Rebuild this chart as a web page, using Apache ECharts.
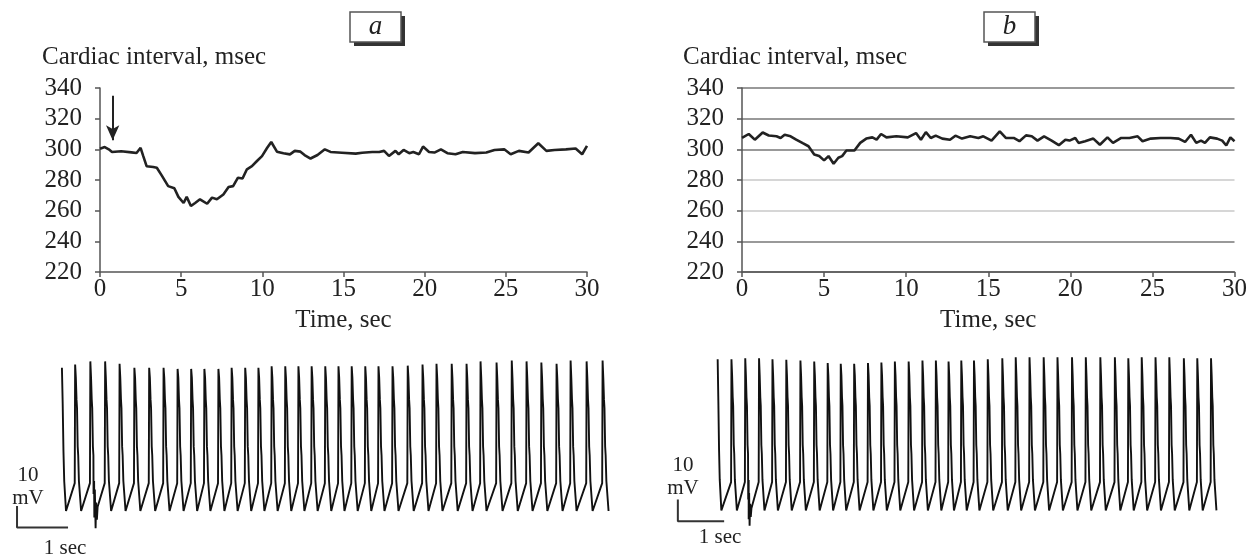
<!DOCTYPE html>
<html>
<head>
<meta charset="utf-8">
<script src="https://cdn.jsdelivr.net/npm/echarts@6/dist/echarts.min.js"></script>
<style>
  html, body { margin: 0; padding: 0; background: #fff; }
  #chart { width: 1250px; height: 554px; }
</style>
</head>
<body>
<div id="chart"></div>
<script>
// cardiac interval, panel a (time s / interval ms)
const timeA = [0, 0.29, 0.54, 0.74, 1.3, 1.94, 2.25, 2.5, 2.66, 2.87, 3.28, 3.5, 3.8, 4.2, 4.58, 4.83, 5.15, 5.34, 5.6, 5.86,
  6.16, 6.6, 6.9, 7.2, 7.6, 7.92, 8.2, 8.5, 8.78, 9.05, 9.36, 9.67, 9.98, 10.3, 10.55, 10.9, 11.3, 11.7, 12.0, 12.35,
  12.6, 12.97, 13.4, 13.85, 14.2, 14.9, 15.75, 16.15, 16.77, 17.2, 17.5, 17.8, 18.2, 18.4, 18.7, 19.05, 19.3, 19.65, 19.9, 20.27,
  20.6, 21.0, 21.4, 21.9, 22.35, 23.1, 23.8, 24.3, 24.9, 25.3, 25.8, 26.4, 27.0, 27.5, 28.0, 28.7, 29.3, 29.7, 30.0]
const intervalA = [300.4, 301.5, 300, 298.3, 298.7, 298, 297.6, 301, 295.7, 289, 288.5, 288, 283, 276, 274.6, 269, 265, 269, 263, 265,
  267.4, 264.5, 268.5, 267.4, 270.6, 275.4, 276, 281.5, 281, 287, 289, 292.4, 295.6, 301, 304.8, 298.5, 297.4, 296.7, 299, 298.5,
  296.3, 294, 296.3, 300, 298.3, 297.8, 297.2, 297.8, 298.3, 298.3, 299, 295.7, 299, 296.8, 299.6, 297.5, 298.3, 296.8, 301.8, 298.3,
  297.9, 300, 297.5, 296.8, 298.3, 297.5, 297.9, 299.6, 300, 296.8, 299, 297.9, 304, 299, 299.6, 300, 300.5, 296.8, 302.3]

// cardiac interval, panel b
const timeB = [0, 0.41, 0.78, 1.26, 1.63, 2.1, 2.35, 2.6, 2.96, 3.3, 3.7, 4.05, 4.4, 4.7, 5.0, 5.27, 5.58, 5.87, 6.1, 6.36,
  6.85, 7.2, 7.57, 7.94, 8.2, 8.47, 8.8, 9.4, 10.1, 10.6, 10.9, 11.2, 11.5, 11.8, 12.2, 12.67, 13.0, 13.4, 13.9, 14.4,
  14.7, 15.2, 15.7, 16.07, 16.55, 16.9, 17.3, 17.65, 18.0, 18.4, 18.86, 19.3, 19.7, 19.95, 20.3, 20.5, 20.9, 21.4, 21.8, 22.26,
  22.6, 23.1, 23.6, 24.1, 24.4, 24.9, 25.5, 26.1, 26.6, 26.99, 27.35, 27.67, 27.96, 28.2, 28.5, 28.94, 29.25, 29.5, 29.75, 30]
const intervalB = [307.4, 310, 306.3, 311, 309, 308.5, 307.4, 309.5, 308.5, 306.3, 304, 302, 296.6, 295.6, 292.8, 295.6, 290.6, 294.5, 295.6, 299.2,
  299.2, 304.2, 307, 307.8, 306.3, 310, 307.8, 308.5, 307.8, 310.6, 306.3, 311.2, 307.4, 308.9, 307, 306.3, 308.9, 307, 308.5, 307.4,
  308.5, 305.7, 311.7, 307.4, 307.4, 305.3, 309.1, 308.5, 305.7, 308.5, 305.7, 302.7, 306.3, 305.7, 307.4, 304.2, 305.3, 307, 303, 307.8,
  304.2, 307.4, 307.4, 308.5, 305.3, 307, 307.4, 307.4, 307, 304.8, 309.5, 304.2, 305.7, 304.2, 307.8, 307, 305.7, 302.5, 307.8, 305.3]

// stimulus arrows: [time, top, tip]
const arrowA = [0.78, 335, 306]
const arrowB = [0.78, 342.8, 312.7]

// potential recordings: upstroke times (s) and overshoot (mV)
const upstrokeA = [0.251, 0.549, 0.839, 1.122, 1.412, 1.702, 1.984, 2.259, 2.525, 2.784, 3.059, 3.318, 3.584, 3.843, 4.102, 4.369,
  4.627, 4.886, 5.153, 5.412, 5.671, 5.937, 6.196, 6.471, 6.769, 7.059, 7.333, 7.631, 7.922, 8.196, 8.510, 8.808, 9.098, 9.388,
  9.686, 9.961, 10.275, 10.588]
const peakA = [8.2, 9.7, 9.7, 8.6, 6.7, 6.7, 6.7, 6.2, 6.2, 6.2, 6.2, 6.7, 6.7, 6.7, 7.4, 7.4, 7.4, 7.4, 7.4, 7.4, 7.4, 7.4, 7.4, 7.4,
  7.7, 8.2, 8.6, 8.6, 8.6, 9.7, 9.2, 10.1, 9.7, 9.2, 8.6, 10.1, 9.7, 10.1]
const upstrokeB = [0.290, 0.588, 0.886, 1.176, 1.475, 1.780, 2.078, 2.369, 2.651, 2.941, 3.239, 3.529, 3.820, 4.118, 4.416, 4.706,
  4.980, 5.255, 5.529, 5.827, 6.141, 6.431, 6.729, 7.035, 7.333, 7.647, 7.945, 8.259, 8.573, 8.863, 9.153, 9.451, 9.749, 10.063,
  10.353, 10.65]
const peakB = [9.4, 9.8, 9.8, 9.4, 9.1, 8.8, 8.3, 7.6, 7.3, 7.3, 7.6, 7.9, 8.3, 8.3, 8.8, 8.8, 8.3, 8.8, 8.8, 9.4, 9.8,
  10.3, 10.3, 10.3, 10.3, 10.3, 10.3, 10.3, 10.3, 9.8, 10.3, 10.3, 10.3, 9.8, 9.8, 9.8]
// one action potential: [time after upstroke, mV], null = overshoot of that beat
const apShape = [[0, -47], [0.008, null], [0.022, 2], [0.035, -8], [0.045, -12], [0.058, -30], [0.068, -34], [0.082, -46], [0.125, -60]]
const leadInA = [[0, 6.7], [0.015, -10], [0.03, -32], [0.045, -46], [0.08, -60]]
const leadInB = [[0, 9.4], [0.015, -10], [0.03, -32], [0.045, -46], [0.08, -60]]
// stimulation artefact
const artefactA = [[0.62, -52], [0.635, -63], [0.645, -50], [0.66, -68], [0.67, -56], [0.685, -64], [0.70, -58]]
const artefactB = [[0.66, -55], [0.67, -64], [0.68, -52], [0.69, -67], [0.70, -57], [0.715, -63], [0.73, -59]]
// scale bars: corner [time, mV], 1 sec x 10 mV
const barA = [-0.88, -67.7]
const barB = [-0.86, -65]

const serif = '"Liberation Serif", "DejaVu Serif", serif'
const ink = '#222'

function buildTrace(lead, ups, peaks, artefact) {
  const pts = lead.slice()
  ups.forEach((u, i) => {
    apShape.forEach(p => pts.push([u + p[0], p[1] === null ? peaks[i] : p[1]]))
  })
  artefact.forEach(p => pts.push(p))
  pts.sort((a, b) => a[0] - b[0])
  return pts
}

function barPoints(c) {
  return [[c[0], c[1] + 10], [c[0], c[1]], [c[0] + 1, c[1]]]
}

function timeAxis(grid) {
  return {
    type: 'value', gridIndex: grid, min: 0, max: 30, interval: 5,
    axisLine: { onZero: false, lineStyle: { color: '#555', width: 1.5 } },
    axisTick: { length: 5, lineStyle: { color: '#555', width: 1.5 } },
    splitLine: { show: false },
    axisLabel: { fontFamily: serif, fontSize: 25, color: ink, margin: 5 },
    name: 'Time, sec', nameLocation: 'middle', nameGap: 36,
    nameTextStyle: { fontFamily: serif, fontSize: 25, color: ink }
  }
}

function intervalAxis(grid, split) {
  return {
    type: 'value', gridIndex: grid, min: 220, max: 340, interval: 20,
    axisLine: { show: true, lineStyle: { color: '#555', width: 1.5 } },
    axisTick: { show: true, length: 5, lineStyle: { color: '#555', width: 1.5 } },
    splitLine: split
      ? { show: true, lineStyle: { width: 1.5, color: ['#777', '#777', '#c8c8c8', '#c8c8c8', '#777', '#777', '#777'] } }
      : { show: false },
    axisLabel: { fontFamily: serif, fontSize: 25, color: ink, margin: 18 }
  }
}

function arrowMark(a) {
  return {
    silent: true, symbol: ['none', 'arrow'], symbolSize: [10, 15],
    label: { show: false },
    lineStyle: { color: ink, width: 2, type: 'solid' },
    emphasis: { disabled: true },
    data: [[{ coord: [a[0], a[1]] }, { coord: [a[0], a[2]] }]]
  }
}

function boxLabel(x, letter) {
  return {
    type: 'group', x: x, y: 12,
    children: [
      { type: 'rect', shape: { x: 4, y: 4, width: 51, height: 30 }, style: { fill: '#333' } },
      { type: 'rect', shape: { x: 0, y: 0, width: 51, height: 30 }, style: { fill: '#fff', stroke: '#555', lineWidth: 1.5 } },
      { type: 'text', x: 25.5, y: 15, style: { text: letter, fontFamily: serif, fontStyle: 'italic', fontSize: 27, fill: ink, align: 'center', verticalAlign: 'middle' } }
    ]
  }
}

function label(x, y, text, size, align) {
  return { type: 'text', x: x, y: y, style: { text: text, fontFamily: serif, fontSize: size, fill: ink, align: align || 'left', verticalAlign: 'middle' } }
}

const chart = echarts.init(document.getElementById('chart'))

const option = {
  animation: false,
  backgroundColor: '#fff',
  grid: [
    { left: 100, top: 88, width: 487, height: 184 },
    { left: 742, top: 88, width: 500, height: 184 },
    { left: 16, top: 350, width: 597, height: 209 },
    { left: 676, top: 347, width: 632, height: 209 }
  ],
  xAxis: [
    timeAxis(0),
    timeAxis(1),
    { type: 'value', gridIndex: 2, min: -0.9, max: 10.8, show: false },
    { type: 'value', gridIndex: 3, min: -0.9, max: 11.5, show: false }
  ],
  yAxis: [
    intervalAxis(0, false),
    intervalAxis(1, true),
    { type: 'value', gridIndex: 2, min: -80, max: 15, show: false },
    { type: 'value', gridIndex: 3, min: -80, max: 15, show: false }
  ],
  graphic: [
    boxLabel(350, 'a'),
    boxLabel(984, 'b'),
    label(42, 57, 'Cardiac interval, msec', 25),
    label(683, 57, 'Cardiac interval, msec', 25),
    label(28, 475, '10', 21, 'center'),
    label(28, 498, 'mV', 21, 'center'),
    label(65, 548, '1 sec', 21, 'center'),
    label(683, 465, '10', 21, 'center'),
    label(683, 488, 'mV', 21, 'center'),
    label(720, 537, '1 sec', 21, 'center')
  ],
  series: [
    {
      type: 'line', xAxisIndex: 0, yAxisIndex: 0, showSymbol: false,
      lineStyle: { color: ink, width: 2.6 },
      data: timeA.map((t, i) => [t, intervalA[i]]),
      markLine: arrowMark(arrowA)
    },
    {
      type: 'line', xAxisIndex: 1, yAxisIndex: 1, showSymbol: false,
      lineStyle: { color: ink, width: 2.6 },
      data: timeB.map((t, i) => [t, intervalB[i]]),
      markLine: arrowMark(arrowB)
    },
    {
      type: 'line', xAxisIndex: 2, yAxisIndex: 2, showSymbol: false, clip: false,
      lineStyle: { color: '#111', width: 1.9 },
      data: buildTrace(leadInA, upstrokeA, peakA, artefactA)
    },
    {
      type: 'line', xAxisIndex: 3, yAxisIndex: 3, showSymbol: false,
      lineStyle: { color: '#111', width: 1.9 },
      data: buildTrace(leadInB, upstrokeB, peakB, artefactB)
    },
    {
      type: 'line', xAxisIndex: 2, yAxisIndex: 2, showSymbol: false, clip: false,
      lineStyle: { color: '#333', width: 2 },
      data: barPoints(barA)
    },
    {
      type: 'line', xAxisIndex: 3, yAxisIndex: 3, showSymbol: false, clip: false,
      lineStyle: { color: '#333', width: 2 },
      data: barPoints(barB)
    }
  ]
}

chart.setOption(option)
</script>
</body>
</html>
